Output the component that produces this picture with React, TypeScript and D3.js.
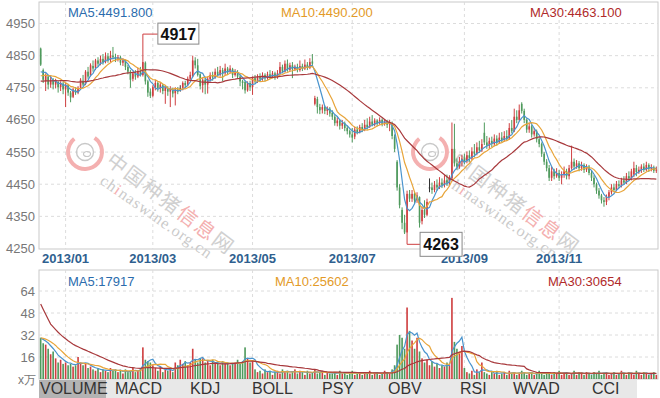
import * as d3 from "d3";

// daily OHLC (index 0 = mid Dec 2012)
const opens = [
  4872, 4805, 4770, 4785, 4760, 4775, 4760, 4768, 4752, 4763,
  4745, 4758, 4735, 4722, 4742, 4735, 4750, 4772, 4762, 4800,
  4788, 4818, 4812, 4835, 4825, 4840, 4830, 4848, 4836, 4850,
  4846, 4838, 4845, 4828, 4834, 4815, 4800, 4778, 4795, 4785,
  4800, 4790, 4828, 4770, 4738, 4725, 4750, 4765, 4748, 4758,
  4740, 4750, 4738, 4745, 4733, 4745, 4748, 4750, 4765, 4760,
  4778, 4785, 4835, 4820, 4792, 4758, 4775, 4760, 4776, 4790,
  4782, 4800, 4790, 4805, 4795, 4810, 4800, 4808, 4790, 4798,
  4785, 4770, 4768, 4742, 4765, 4752, 4780, 4772, 4785, 4778,
  4790, 4780, 4792, 4785, 4795, 4783, 4795, 4815, 4800, 4825,
  4806, 4820, 4808, 4815, 4805, 4818, 4810, 4822, 4812, 4832,
  4700, 4715, 4690, 4682, 4690, 4678, 4685, 4672, 4660, 4640,
  4648, 4632, 4640, 4625, 4615, 4605, 4598, 4620, 4612, 4628,
  4620, 4635, 4628, 4645, 4635, 4648, 4640, 4650, 4638, 4645,
  4636, 4640, 4598, 4520, 4440, 4370, 4330, 4300, 4420, 4405,
  4420, 4400, 4410, 4335, 4370, 4355, 4440, 4440, 4432, 4448,
  4440, 4455, 4448, 4462, 4455, 4468, 4560, 4515, 4505, 4520,
  4530, 4522, 4540, 4530, 4552, 4545, 4565, 4555, 4610, 4580,
  4570, 4585, 4575, 4592, 4580, 4595, 4588, 4600, 4592, 4625,
  4615, 4660, 4650, 4700, 4678, 4650, 4620, 4630, 4605, 4615,
  4590, 4575, 4545, 4520, 4500, 4470, 4490, 4475, 4485, 4470,
  4480, 4490, 4475, 4500, 4520, 4505, 4515, 4500, 4510, 4495,
  4505, 4485, 4470, 4450, 4430, 4415, 4400, 4395, 4410, 4425,
  4440, 4432, 4450, 4445, 4462, 4455, 4475, 4468, 4480, 4500,
  4488, 4495, 4505, 4495, 4510, 4498, 4502, 4492,
];
const highs = [
  4875, 4810, 4795, 4790, 4785, 4780, 4778, 4772, 4770, 4768,
  4765, 4762, 4740, 4750, 4752, 4755, 4780, 4790, 4805, 4815,
  4826, 4835, 4840, 4845, 4850, 4855, 4860, 4858, 4865, 4877,
  4856, 4852, 4850, 4842, 4838, 4822, 4805, 4800, 4805, 4812,
  4815, 4917, 4832, 4775, 4748, 4758, 4775, 4770, 4768, 4762,
  4758, 4755, 4755, 4750, 4752, 4752, 4758, 4770, 4772, 4785,
  4800, 4850, 4845, 4840, 4795, 4780, 4785, 4785, 4798, 4800,
  4810, 4815, 4818, 4812, 4825, 4815, 4820, 4812, 4808, 4805,
  4790, 4775, 4772, 4770, 4772, 4785, 4790, 4792, 4795, 4798,
  4795, 4800, 4805, 4802, 4800, 4805, 4830, 4822, 4835, 4838,
  4828, 4830, 4822, 4825, 4835, 4825, 4838, 4830, 4842, 4855,
  4725, 4722, 4700, 4698, 4695, 4692, 4690, 4680, 4665, 4658,
  4652, 4650, 4645, 4632, 4620, 4625, 4628, 4630, 4635, 4640,
  4650, 4655, 4660, 4665, 4655, 4652, 4658, 4655, 4652, 4650,
  4650, 4645, 4605, 4525, 4450, 4378, 4355, 4430, 4432, 4432,
  4428, 4425, 4412, 4380, 4400, 4405, 4468, 4455, 4460, 4465,
  4472, 4468, 4478, 4480, 4478, 4642, 4638, 4530, 4535, 4542,
  4545, 4552, 4555, 4565, 4575, 4580, 4585, 4590, 4642, 4600,
  4595, 4598, 4605, 4602, 4610, 4612, 4615, 4618, 4640, 4650,
  4685, 4680, 4698, 4705, 4685, 4655, 4642, 4635, 4625, 4620,
  4598, 4580, 4550, 4528, 4510, 4505, 4498, 4500, 4495, 4490,
  4505, 4498, 4510, 4570, 4530, 4525, 4522, 4520, 4515, 4512,
  4510, 4492, 4478, 4455, 4438, 4420, 4410, 4418, 4432, 4450,
  4452, 4460, 4462, 4470, 4475, 4485, 4490, 4498, 4520, 4510,
  4505, 4512, 4515, 4520, 4515, 4512, 4508, 4505,
];
const lows = [
  4818, 4765, 4740, 4745, 4750, 4745, 4748, 4735, 4740, 4730,
  4690, 4725, 4705, 4718, 4728, 4730, 4745, 4755, 4758, 4778,
  4785, 4800, 4805, 4815, 4820, 4822, 4826, 4828, 4830, 4838,
  4830, 4832, 4820, 4818, 4805, 4792, 4750, 4770, 4775, 4780,
  4785, 4785, 4760, 4722, 4718, 4720, 4742, 4738, 4735, 4730,
  4700, 4725, 4690, 4720, 4695, 4730, 4738, 4742, 4750, 4755,
  4770, 4782, 4810, 4785, 4745, 4735, 4730, 4732, 4770, 4772,
  4778, 4785, 4785, 4770, 4790, 4792, 4795, 4780, 4785, 4778,
  4755, 4745, 4732, 4738, 4740, 4728, 4762, 4765, 4770, 4772,
  4770, 4775, 4778, 4780, 4775, 4778, 4790, 4795, 4798, 4800,
  4800, 4780, 4802, 4798, 4800, 4802, 4805, 4805, 4808, 4815,
  4695, 4670, 4668, 4670, 4668, 4665, 4660, 4650, 4632, 4630,
  4620, 4622, 4615, 4605, 4595, 4580, 4590, 4605, 4608, 4612,
  4615, 4620, 4625, 4630, 4630, 4630, 4635, 4630, 4632, 4625,
  4615, 4590, 4550, 4430, 4375, 4310, 4295, 4263, 4395, 4395,
  4390, 4392, 4315, 4325, 4345, 4350, 4425, 4420, 4425, 4430,
  4435, 4438, 4440, 4445, 4448, 4462, 4505, 4495, 4498, 4505,
  4512, 4515, 4520, 4525, 4535, 4540, 4548, 4550, 4572, 4560,
  4560, 4565, 4568, 4570, 4575, 4580, 4582, 4585, 4588, 4608,
  4612, 4640, 4645, 4670, 4640, 4610, 4610, 4595, 4598, 4580,
  4565, 4535, 4510, 4490, 4460, 4460, 4465, 4470, 4460, 4450,
  4470, 4465, 4465, 4495, 4495, 4498, 4490, 4492, 4485, 4488,
  4478, 4460, 4440, 4420, 4405, 4390, 4380, 4385, 4400, 4418,
  4425, 4428, 4438, 4440, 4448, 4450, 4460, 4462, 4472, 4475,
  4482, 4485, 4488, 4490, 4488, 4490, 4485, 4485,
];
const closes = [
  4822, 4775, 4790, 4760, 4775, 4760, 4770, 4752, 4765, 4745,
  4760, 4735, 4720, 4745, 4735, 4750, 4775, 4760, 4800, 4785,
  4820, 4810, 4835, 4825, 4840, 4830, 4848, 4835, 4850, 4845,
  4838, 4845, 4828, 4835, 4815, 4800, 4775, 4795, 4785, 4800,
  4790, 4830, 4770, 4735, 4725, 4752, 4765, 4748, 4760, 4740,
  4752, 4738, 4748, 4732, 4745, 4738, 4748, 4765, 4758, 4778,
  4790, 4835, 4820, 4790, 4755, 4775, 4760, 4778, 4790, 4782,
  4800, 4790, 4805, 4795, 4810, 4798, 4810, 4790, 4798, 4785,
  4770, 4765, 4742, 4765, 4752, 4780, 4770, 4785, 4778, 4790,
  4780, 4792, 4785, 4795, 4782, 4795, 4815, 4800, 4825, 4805,
  4820, 4808, 4815, 4805, 4818, 4810, 4822, 4812, 4830, 4825,
  4718, 4690, 4680, 4690, 4678, 4685, 4670, 4660, 4640, 4648,
  4632, 4640, 4625, 4615, 4605, 4595, 4620, 4612, 4628, 4620,
  4635, 4628, 4645, 4635, 4648, 4640, 4650, 4638, 4645, 4635,
  4642, 4600, 4560, 4440, 4385, 4330, 4300, 4420, 4405, 4420,
  4400, 4415, 4330, 4370, 4355, 4395, 4440, 4432, 4448, 4440,
  4455, 4448, 4462, 4455, 4468, 4560, 4515, 4505, 4520, 4530,
  4522, 4540, 4530, 4552, 4545, 4565, 4555, 4575, 4580, 4570,
  4585, 4575, 4592, 4580, 4595, 4588, 4600, 4592, 4625, 4615,
  4660, 4650, 4680, 4678, 4650, 4620, 4630, 4605, 4615, 4590,
  4575, 4545, 4520, 4500, 4470, 4490, 4475, 4485, 4470, 4480,
  4490, 4475, 4500, 4520, 4505, 4515, 4500, 4510, 4495, 4505,
  4485, 4470, 4450, 4430, 4415, 4400, 4395, 4410, 4425, 4440,
  4432, 4450, 4445, 4462, 4455, 4475, 4468, 4490, 4500, 4488,
  4495, 4505, 4495, 4510, 4498, 4502, 4492, 4495,
];
// volume in 万 (x10k)
const volumes = [
  30, 26, 25, 22, 18, 20, 15, 12, 14, 11,
  12, 10, 11, 9, 10, 16, 12, 10, 11, 8,
  9, 7, 6, 8, 5, 7, 6, 5, 8, 6,
  7, 5, 6, 4, 7, 5, 6, 8, 5, 6,
  7, 23, 14, 13, 12, 10, 8, 6, 9, 5,
  7, 6, 8, 5, 12, 10, 14, 11, 13, 10,
  12, 22, 14, 12, 15, 15, 12, 13, 10, 14,
  11, 12, 10, 13, 11, 12, 10, 11, 12, 14,
  11, 13, 23, 15, 12, 13, 7, 5, 6, 4,
  7, 5, 6, 3, 5, 6, 4, 7, 5, 6,
  4, 5, 7, 4, 6, 5, 3, 6, 4, 5,
  7, 4, 5, 6, 3, 5, 4, 4, 5, 3,
  6, 4, 5, 3, 4, 6, 3, 5, 4, 3,
  5, 4, 6, 3, 4, 5, 3, 4, 6, 5,
  4, 7, 10, 25, 32, 30, 22, 52, 35, 28,
  22, 30, 20, 15, 12, 14, 10, 13, 9, 11,
  8, 10, 9, 12, 10, 59, 27, 22, 20, 24,
  8, 5, 4, 6, 3, 7, 5, 12, 5, 4,
  3, 5, 4, 6, 3, 4, 5, 3, 6, 4,
  5, 3, 4, 6, 5, 3, 4, 5, 3, 4,
  6, 4, 3, 5, 4, 3, 5, 4, 6, 3,
  4, 5, 3, 4, 6, 3, 5, 4, 3, 5,
  4, 3, 5, 4, 6, 3, 4, 5, 3, 4,
  5, 3, 4, 6, 4, 3, 5, 4, 3, 6,
  4, 3, 5, 4, 3, 4, 5, 3,
];
// sessions before the visible window, only used to seed the moving averages
const preCloses = [
  4770, 4765, 4772, 4760, 4755, 4762, 4758, 4750, 4745, 4752,
  4760, 4768, 4775, 4770, 4762, 4755, 4760, 4768, 4772, 4765,
  4770, 4775, 4780, 4772, 4778, 4785, 4790, 4800, 4803,
];
const preVolumes = [
  140, 135, 130, 125, 80, 75, 70, 65, 60, 55,
  52, 50, 45, 42, 40, 38, 36, 34, 33, 32,
  31, 30, 30, 29, 32, 30, 31, 29, 28,
];

const monthIdx = [10, 45, 85, 125, 170, 208];
const monthLabels = ["2013/01", "2013/03", "2013/05", "2013/07", "2013/09", "2013/11"];
const priceTicks = [4950, 4850, 4750, 4650, 4550, 4450, 4350, 4250];
const volTicks = [64, 48, 32, 16];
const priceLegend = ["MA5:4491.800", "MA10:4490.200", "MA30:4463.100"];
const volLegend = ["MA5:17917", "MA10:25602", "MA30:30654"];
const maPeriods = [5, 10, 30];
const tabs = ["VOLUME", "MACD", "KDJ", "BOLL", "PSY", "OBV", "RSI", "WVAD", "CCI"];

const tabX = [40, 115, 190, 252, 322, 388, 460, 513, 592];
const priceLegendX = [68, 281, 530];
const volLegendX = [68, 275, 548];
const maColors = ["#4a94cd", "#e8a53a", "#a8393c"];
const legendColors = ["#2b6cad", "#e39a27", "#b02a2a"];
const RED = "#cf3f40";
const GREEN = "#4f9a5d";
const FONT = "Arial, 'Liberation Sans', sans-serif";

const L = 39, R = 658;
const pTop = 2, pBot = 249;
const vTop = 270, vBot = 379;

function movingAvg(pre: number[], vals: number[], n: number) {
  const all = pre.concat(vals);
  return vals.map((_, i) => d3.mean(all.slice(i + pre.length - n + 1, i + pre.length + 1)) as number);
}

const Watermark = ({ dx }: { dx: number }) => {
  const arc = d3.arc()({ innerRadius: 15, outerRadius: 19, startAngle: 0.6, endAngle: 5.6 } as any) as string;
  return (
    <g>
      <g transform={`translate(${85 + dx},152)`}>
        <path d={arc} fill="#f4b0b0" />
        <circle r={8.5} fill="none" stroke="#c8c8c8" strokeWidth={1.4} />
        <ellipse cx={2} cy={2} rx={3.5} ry={2.5} fill="none" stroke="#c8c8c8" strokeWidth={1.2} />
      </g>
      <text transform={`translate(${105 + dx},163) rotate(37)`} fontSize={20}
        fontFamily="'Noto Sans CJK SC', sans-serif" letterSpacing={2}>
        <tspan fill="#d0d0d0">中国种猪</tspan>
        <tspan fill="#f4b0b0">信息</tspan>
        <tspan fill="#d0d0d0">网</tspan>
      </text>
      <text transform={`translate(${99 + dx},183) rotate(35)`} fontSize={16}
        fontFamily="'Liberation Serif', serif" fill="#cacaca" letterSpacing={1}>
        ch<tspan fill="#f4b0b0">i</tspan>naswine.org.cn
      </text>
    </g>
  );
};

export default function App() {
  const n = closes.length;
  const x = d3.scaleBand<number>().domain(d3.range(n)).range([L, R]).padding(0.35);
  const bw = x.bandwidth();
  const cx = (i: number) => (x(i) as number) + bw / 2;
  const y = d3.scaleLinear().domain([4250, 4950]).range([248.5, 23.5]);
  const yv = d3.scaleLinear().domain([0, 64]).range([vBot, 291]);

  const colorOf = (i: number) =>
    closes[i] > opens[i] ? RED : closes[i] < opens[i] ? GREEN : "#333";

  const priceLine = d3.line<number>().x((_, i) => cx(i)).y((d) => y(d));
  const volLine = d3.line<number>().x((_, i) => cx(i)).y((d) => yv(d));

  const hiIdx = d3.maxIndex(highs);
  const loIdx = d3.minIndex(lows);
  const hiX = cx(hiIdx), hiY = y(highs[hiIdx]);
  const loX = cx(loIdx), loY = y(lows[loIdx]);

  return (
    <svg width={660} height={398} style={{ position: "absolute", left: 0, top: 0, background: "#fff" }}
      fontFamily={FONT}>
      {/* panels */}
      <rect x={L} y={pTop} width={R - L} height={pBot - pTop} fill="#fff" stroke="#c9c9c9" />
      <rect x={L} y={vTop} width={R - L} height={vBot - vTop} fill="#fff" stroke="#c9c9c9" />

      {/* grid */}
      {priceTicks.slice(0, -1).map((t) => (
        <line key={t} x1={L} x2={R} y1={y(t)} y2={y(t)} stroke="#dcdcdc" strokeDasharray="3,3" />
      ))}
      {volTicks.map((t) => (
        <line key={t} x1={L} x2={R} y1={yv(t)} y2={yv(t)} stroke="#dcdcdc" strokeDasharray="3,3" />
      ))}
      {monthIdx.map((m) => (
        <g key={m}>
          <line x1={cx(m)} x2={cx(m)} y1={pTop} y2={pBot} stroke="#dcdcdc" strokeDasharray="3,3" />
          <line x1={cx(m)} x2={cx(m)} y1={vTop} y2={vBot} stroke="#dcdcdc" strokeDasharray="3,3" />
        </g>
      ))}

      <Watermark dx={0} />
      <Watermark dx={345} />

      {/* axis labels */}
      {priceTicks.map((t) => (
        <text key={t} x={35} y={y(t)} dy="0.35em" textAnchor="end" fontSize={13} fill="#777">{t}</text>
      ))}
      {volTicks.map((t) => (
        <text key={t} x={35} y={yv(t)} dy="0.35em" textAnchor="end" fontSize={13} fill="#777">{t}</text>
      ))}
      <text x={36} y={380} dy="0.35em" textAnchor="end" fontSize={12} fill="#777">x万</text>
      {monthIdx.map((m, k) => (
        <text key={m} x={cx(m)} y={263} textAnchor="middle" fontSize={13} fontWeight="bold"
          fill="#2f5f8f">{monthLabels[k]}</text>
      ))}

      {/* candles */}
      {closes.map((c, i) => {
        const col = colorOf(i);
        const top = y(Math.max(opens[i], c));
        const h = Math.max(1, y(Math.min(opens[i], c)) - top);
        return (
          <g key={i}>
            <line x1={cx(i)} x2={cx(i)} y1={y(highs[i])} y2={y(lows[i])} stroke={col} strokeWidth={1} />
            <rect x={x(i)} y={top} width={bw} height={h} fill={col} />
          </g>
        );
      })}

      {/* price moving averages */}
      {maPeriods.map((p, k) => (
        <path key={p} d={priceLine(movingAvg(preCloses, closes, p)) as string}
          fill="none" stroke={maColors[k]} strokeWidth={1.2} />
      ))}

      {/* volume */}
      {volumes.map((v, i) => (
        <rect key={i} x={x(i)} y={yv(v)} width={bw} height={vBot - yv(v)}
          fill={colorOf(i) === "#333" ? RED : colorOf(i)} />
      ))}
      {maPeriods.map((p, k) => (
        <path key={p} d={volLine(movingAvg(preVolumes, volumes, p)) as string}
          fill="none" stroke={maColors[k]} strokeWidth={1.2} />
      ))}

      {/* legends */}
      {priceLegend.map((s, k) => (
        <text key={s} x={priceLegendX[k]} y={17} fontSize={13} fill={legendColors[k]}>{s}</text>
      ))}
      {volLegend.map((s, k) => (
        <text key={s} x={volLegendX[k]} y={286} fontSize={13} fill={legendColors[k]}>{s}</text>
      ))}

      {/* extreme markers */}
      <line x1={hiX} x2={hiX + 15} y1={hiY} y2={hiY} stroke={RED} />
      <rect x={hiX + 15} y={hiY - 11} width={41} height={21} fill="#fff" stroke="#888" />
      <text x={hiX + 35.5} y={hiY + 5.5} textAnchor="middle" fontSize={16} fontWeight="bold" fill="#111">
        {highs[hiIdx]}
      </text>
      <line x1={loX} x2={loX + 13} y1={loY} y2={loY} stroke={RED} />
      <rect x={loX + 13} y={loY - 12} width={42} height={24} fill="#fff" stroke="#888" />
      <text x={loX + 34} y={loY + 6} textAnchor="middle" fontSize={16} fontWeight="bold" fill="#111">
        {lows[loIdx]}
      </text>

      {/* indicator tabs */}
      <rect x={L} y={380} width={598} height={18} fill="#e8e8e8" />
      <rect x={L} y={380} width={67} height={18} fill="#b3b3b3" />
      {tabs.map((t, k) => (
        <text key={t} x={tabX[k]} y={394} fontSize={16} fill="#333">{t}</text>
      ))}
    </svg>
  );
}
